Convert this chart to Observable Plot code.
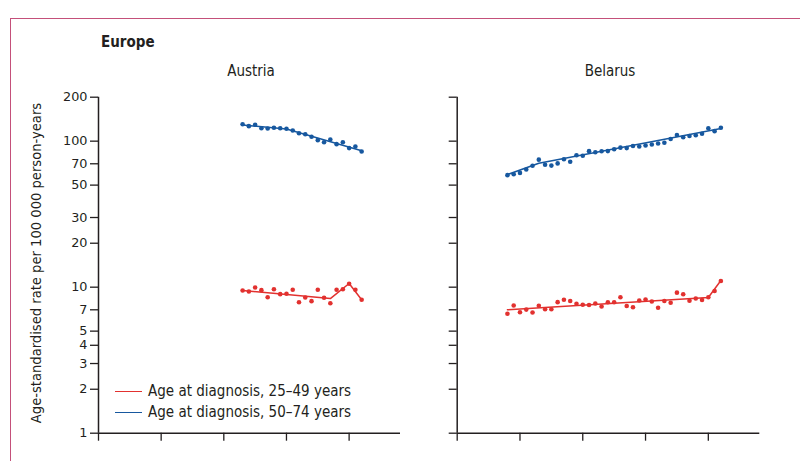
<!DOCTYPE html>
<html>
<head>
<meta charset="utf-8">
<script src="https://cdn.jsdelivr.net/npm/d3@7"></script>
<script src="https://cdn.jsdelivr.net/npm/@observablehq/plot@0.6"></script>
<style>
  html, body { margin: 0; padding: 0; background: #fff; }
  #wrap { position: relative; width: 800px; height: 461px; overflow: hidden;
          font-family: "DejaVu Sans Condensed", "DejaVu Sans", sans-serif; font-stretch: condensed; color: #231f20; }
  #frame { position: absolute; left: 10px; top: 18px; width: 800px; height: 460px;
           border-top: 1.5px solid #c4507a; border-left: 1.5px solid #c4507a; }
  .abs { position: absolute; white-space: nowrap; }
  .title { font-weight: bold; font-size: 15px; }
  .country { font-size: 15px; transform: translateX(-50%); }
  .ylab { font-size: 14.6px; transform: translate(-50%, -50%) rotate(-90deg); }
  .leg { font-size: 15px; }
  .sw { position: absolute; height: 0; border-top: 1.6px solid; width: 27px; }
  svg { position: absolute; top: 0; font-stretch: normal; }
</style>
</head>
<body>
<div id="wrap">
  <div id="frame"></div>
  <div class="abs title" style="left:101px; top:33px;">Europe</div>
  <div class="abs country" style="left:251px; top:62px;">Austria</div>
  <div class="abs country" style="left:610px; top:62px;">Belarus</div>
  <div class="abs ylab" style="left:35px; top:263px;">Age-standardised rate per 100 000 person-years</div>
  <div class="sw" style="left:115px; top:391px; border-color:#e2312f;"></div>
  <div class="abs leg" style="left:148px; top:382px;">Age at diagnosis, 25–49 years</div>
  <div class="sw" style="left:115px; top:412px; border-color:#17589f;"></div>
  <div class="abs leg" style="left:148px; top:403px;">Age at diagnosis, 50–74 years</div>
</div>
<script>
// ---- data ----
const groups = ["25–49 years", "50–74 years"];
const colors = ["#e2312f", "#17589f"];
const yTicks = [1, 2, 3, 4, 5, 7, 10, 20, 30, 50, 70, 100, 200];
const xTicks = [1970, 1980, 1990, 2000, 2010];

const austriaYears = [1993,1994,1995,1996,1997,1998,1999,2000,2001,2002,2003,2004,2005,2006,2007,2008,2009,2010,2011,2012];
const austriaOld = [130.7,126.7,129.5,122.7,122.2,123.5,122.7,121.6,118.4,113.4,111.6,107.2,101.6,98.4,102.7,95.4,98.4,89.6,92.0,85.0];
const austriaYoung = [9.49,9.35,9.95,9.54,8.54,9.69,8.96,9.01,9.60,7.89,8.50,8.02,9.60,8.46,7.77,9.60,9.69,10.55,9.60,8.20];
const austriaOldFitYears = [1993, 2000, 2012];
const austriaOldFit = [129, 121, 86];
const austriaYoungFitYears = [1993, 2007, 2010, 2012];
const austriaYoungFit = [9.5, 8.35, 10.6, 8.2];

const belarusYears = [1978,1979,1980,1981,1982,1983,1984,1985,1986,1987,1988,1989,1990,1991,1992,1993,1994,1995,1996,1997,1998,1999,2000,2001,2002,2003,2004,2005,2006,2007,2008,2009,2010,2011,2012];
const belarusOld = [58.5,59.4,60.6,64.0,67.9,74.7,69.0,68.0,70.4,75.2,72.3,80.1,79.4,85.4,83.9,85.3,85.5,88.0,90.3,89.6,92.7,92.0,93.4,94.9,96.4,97.5,103.5,110.3,106.3,108.5,109.7,112.4,122.6,117.1,123.5];
const belarusYoung = [6.57,7.49,6.74,7.02,6.71,7.47,7.06,7.06,7.90,8.21,8.04,7.70,7.58,7.55,7.73,7.38,7.89,7.89,8.54,7.43,7.28,8.11,8.24,7.98,7.23,8.04,7.82,9.17,8.94,8.08,8.37,8.17,8.53,9.42,11.03];
const belarusOldFitYears = [1978, 1983, 2012];
const belarusOldFit = [59, 70.5, 122];
const belarusYoungFitYears = [1978, 2010, 2012];
const belarusYoungFit = [7.0, 8.5, 11.1];

// ---- build tables ----
function rows(years, values, g) { return years.map((year, i) => ({year, value: values[i], group: g})); }
const austriaPts = [...rows(austriaYears, austriaYoung, groups[0]), ...rows(austriaYears, austriaOld, groups[1])];
const austriaFit = [...rows(austriaYoungFitYears, austriaYoungFit, groups[0]), ...rows(austriaOldFitYears, austriaOldFit, groups[1])];
const belarusPts = [...rows(belarusYears, belarusYoung, groups[0]), ...rows(belarusYears, belarusOld, groups[1])];
const belarusFit = [...rows(belarusYoungFitYears, belarusYoungFit, groups[0]), ...rows(belarusOldFitYears, belarusOldFit, groups[1])];

const ink = "#231f20";
const tickLabels = yTicks.map(v => ({v, label: String(v), x0: 1970}));
function panel(pts, fit, opts) {
  return Plot.plot({
    width: opts.width, height: 461,
    marginLeft: opts.marginLeft, marginRight: opts.marginRight,
    marginTop: 96.7, marginBottom: 28.3,
    style: {fontFamily: '"DejaVu Sans", sans-serif', fontSize: "12.8px", color: ink, background: "transparent"},
    x: {type: "linear", domain: [1970, 2018.2], axis: null},
    y: {type: "log", domain: [1, 200], axis: null},
    color: {domain: groups, range: colors},
    marks: [
      Plot.axisY(yTicks, {anchor: "left", tickSize: 8, tickPadding: 3, tickFormat: () => "", label: null, strokeWidth: 1.3, stroke: ink}),
      Plot.axisX(xTicks, {anchor: "bottom", tickSize: 8, tickFormat: () => "", label: null, strokeWidth: 1.3, stroke: ink}),
      opts.labels ? Plot.text(tickLabels, {x: "x0", y: "v", text: "label", textAnchor: "end", dx: -11, fill: ink, fontSize: 12.8}) : null,
      Plot.ruleX([1970], {y1: 1, y2: 200, stroke: ink, strokeWidth: 1.5}),
      Plot.ruleY([1], {x1: 1970, x2: 2018.2, stroke: ink, strokeWidth: 1.5}),
      Plot.line(fit, {x: "year", y: "value", z: "group", stroke: "group", strokeWidth: 1.5}),
      Plot.dot(pts, {x: "year", y: "value", fill: "group", r: 2.3, stroke: "none"})
    ].filter(Boolean)
  });
}

const wrap = document.getElementById("wrap");
const left = panel(austriaPts, austriaFit, {width: 420, marginLeft: 98, marginRight: 20, labels: true});
left.style.left = "0px";
wrap.appendChild(left);
const right = panel(belarusPts, belarusFit, {width: 380, marginLeft: 36.7, marginRight: 40.7, labels: false});
right.style.left = "420px";
wrap.appendChild(right);
</script>
</body>
</html>
